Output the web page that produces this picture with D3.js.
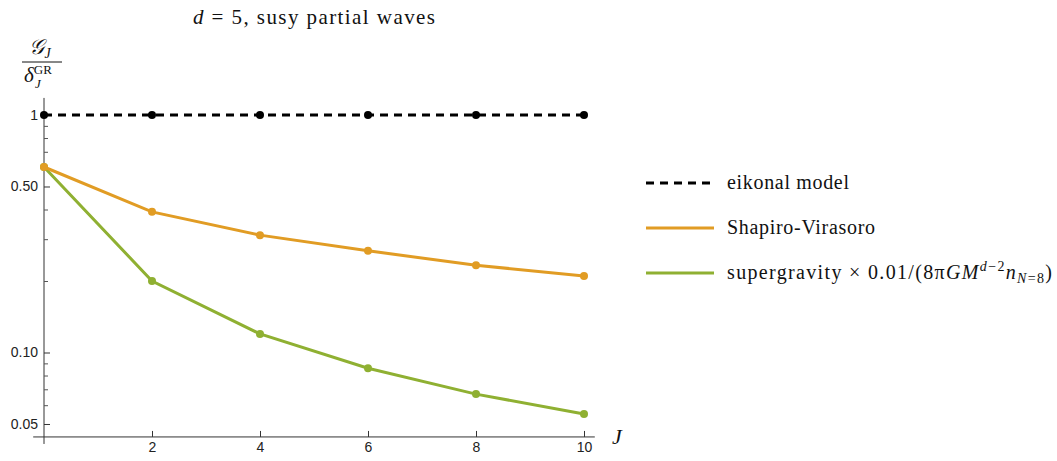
<!DOCTYPE html>
<html>
<head>
<meta charset="utf-8">
<script src="https://cdn.jsdelivr.net/npm/d3@7"></script>
<style>
  body { margin: 0; background: #fff; }
  .tick text { font-family: "Liberation Sans", Arial, sans-serif; font-size: 14px; fill: #222; }
  .serif { font-family: "Liberation Serif", "DejaVu Serif", serif; fill: #111; }
</style>
</head>
<body>
<svg id="chart" width="1057" height="461"></svg>
<script>
// data
let J = [0, 2, 4, 6, 8, 10],
    eikonal = [1, 1, 1, 1, 1, 1],
    shapiro = [0.604, 0.391, 0.312, 0.268, 0.233, 0.210],
    sugra = [0.604, 0.200, 0.1197, 0.0858, 0.0668, 0.0551];

let xTicks = [2, 4, 6, 8, 10],
    yTicks = [1, 0.5, 0.1, 0.05],
    yTickLabels = ["1", "0.50", "0.10", "0.05"],
    yMinor = [0.9, 0.8, 0.7, 0.6, 0.4, 0.3, 0.2, 0.09, 0.08, 0.07, 0.06];

let width = 1057,
    height = 461,
    colors = {eik: "#000000", sv: "#E19C24", sg: "#8FB032"};

let svg = d3.select("#chart");

let x = d3.scaleLinear().domain([0, 10]).range([44, 584]),
    y = d3.scaleLog().domain([1, 0.1]).range([115, 352.5]);

let yBottom = 0.0441, yTop = 1.18, yOver = 0.0412;

// axis lines (crossing with small overhang)
svg.append("line")
  .attr("x1", x(-0.2)).attr("x2", x(10.2))
  .attr("y1", y(yBottom)).attr("y2", y(yBottom))
  .attr("stroke", "#333").attr("stroke-width", 1);
svg.append("line")
  .attr("x1", x(0)).attr("x2", x(0))
  .attr("y1", y(yTop)).attr("y2", y(yOver))
  .attr("stroke", "#333").attr("stroke-width", 1);

// x axis ticks
let xAxis = d3.axisBottom(x).tickValues(xTicks).tickSize(-6).tickPadding(5)
  .tickFormat(d3.format("d"));
svg.append("g")
  .attr("transform", `translate(0,${y(yBottom)})`)
  .call(xAxis)
  .call(g => g.select(".domain").remove())
  .call(g => g.selectAll(".tick line").attr("stroke", "#333"));

// y axis major
let yAxis = d3.axisLeft(y).tickValues(yTicks).tickSize(-6).tickPadding(6)
  .tickFormat((d, i) => yTickLabels[i]);
svg.append("g")
  .attr("transform", `translate(${x(0)},0)`)
  .call(yAxis)
  .call(g => g.select(".domain").remove())
  .call(g => g.selectAll(".tick line").attr("stroke", "#333"));

// y axis minor
let yAxisMinor = d3.axisLeft(y).tickValues(yMinor).tickSize(-4).tickFormat("");
svg.append("g")
  .attr("transform", `translate(${x(0)},0)`)
  .call(yAxisMinor)
  .call(g => g.select(".domain").remove())
  .call(g => g.selectAll(".tick line").attr("stroke", "#555"));

// series
let series = [
  {vals: eikonal, color: colors.eik, dash: "8,6"},
  {vals: shapiro, color: colors.sv, dash: null},
  {vals: sugra, color: colors.sg, dash: null}
];

let line = d3.line().x(d => x(d[0])).y(d => y(d[1]));

// draw green first, then orange, then black on top
[series[2], series[1], series[0]].forEach(s => {
  let pts = J.map((j, i) => [j, s.vals[i]]);
  svg.append("path")
    .datum(pts)
    .attr("d", line)
    .attr("fill", "none")
    .attr("stroke", s.color)
    .attr("stroke-width", 3)
    .attr("stroke-dasharray", s.dash);
  svg.selectAll(null)
    .data(pts).enter()
    .append("circle")
    .attr("cx", d => x(d[0]))
    .attr("cy", d => y(d[1]))
    .attr("r", 4)
    .attr("fill", s.color);
});

// title
let title = svg.append("text").attr("class", "serif")
  .attr("x", 193).attr("y", 24)
  .attr("textLength", 242).attr("lengthAdjust", "spacing")
  .style("font-size", "21px");
title.append("tspan").style("font-style", "italic").text("d");
title.append("tspan").text(" = 5, susy partial waves");

// y label fraction
let yl = svg.append("g").attr("class", "serif");
let num = yl.append("text").attr("x", 40).attr("y", 54)
  .attr("text-anchor", "middle").style("font-size", "21px");
num.append("tspan").style("font-style", "italic").text("\u{1D4A2}");
num.append("tspan").style("font-style", "italic").style("font-size", "14px")
  .attr("dy", 4).text("J");
yl.append("line").attr("x1", 22).attr("x2", 62).attr("y1", 62).attr("y2", 62)
  .attr("stroke", "#111").attr("stroke-width", 1);
let den = yl.append("text").attr("x", 24).attr("y", 82).style("font-size", "21px");
den.append("tspan").style("font-style", "italic").text("δ");
den.append("tspan").style("font-size", "13px").attr("dy", -8).text("GR");
den.append("tspan").style("font-style", "italic").style("font-size", "13px")
  .attr("x", 35).attr("dy", 14).text("J");

// x label
svg.append("text").attr("class", "serif")
  .attr("x", 612).attr("y", 444)
  .style("font-size", "22px").style("font-style", "italic").text("J");

// legend
let legend = [
  {color: colors.eik, dash: "8,6", label: "eikonal model", w: 122},
  {color: colors.sv, dash: null, label: "Shapiro-Virasoro", w: 148},
  {color: colors.sg, dash: null, label: null, w: 325}
];
legend.forEach((l, i) => {
  let ly = 183 + i * 45;
  svg.append("line")
    .attr("x1", 646).attr("x2", 714).attr("y1", ly).attr("y2", ly)
    .attr("stroke", l.color).attr("stroke-width", 3)
    .attr("stroke-dasharray", l.dash);
  let t = svg.append("text").attr("class", "serif")
    .attr("x", 727).attr("y", ly + 6)
    .attr("textLength", l.w).attr("lengthAdjust", "spacing")
    .style("font-size", "20px");
  if (l.label) {
    t.text(l.label);
  } else {
    t.append("tspan").text("supergravity × 0.01/(8π");
    t.append("tspan").style("font-style", "italic").text("GM");
    t.append("tspan").style("font-style", "italic").style("font-size", "14px")
      .attr("dy", -8).text("d");
    t.append("tspan").style("font-size", "14px").text("−2");
    t.append("tspan").style("font-style", "italic").attr("dy", 8).text("n");
    t.append("tspan").style("font-style", "italic").style("font-size", "14px")
      .attr("dy", 4).text("N");
    t.append("tspan").style("font-size", "14px").text("=8");
    t.append("tspan").attr("dy", -4).text(")");
  }
});
</script>
</body>
</html>
